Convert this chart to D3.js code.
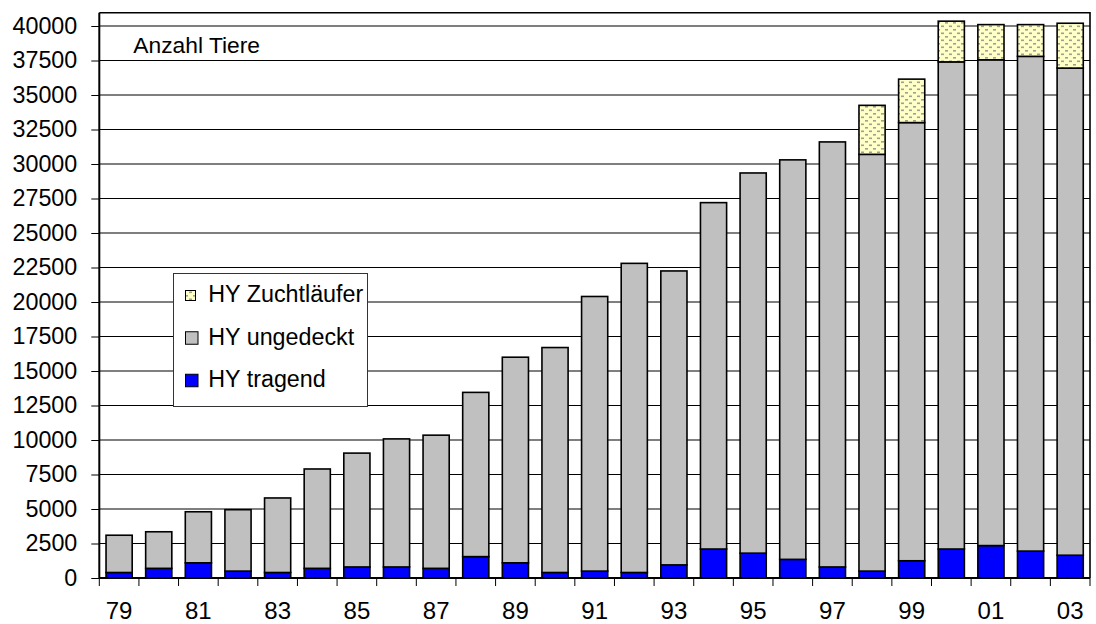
<!DOCTYPE html>
<html>
<head>
<meta charset="utf-8">
<script src="https://cdn.jsdelivr.net/npm/d3@7"></script>
<style>
  html, body { margin: 0; padding: 0; background: #fff; }
  svg { display: block; }
  text { font-family: "Liberation Sans", Arial, sans-serif; fill: #000; }
</style>
</head>
<body>
<svg id="chart" width="1096" height="624"></svg>
<script>
// ---- data ----
const years = ["79","80","81","82","83","84","85","86","87","88","89","90","91","92","93","94","95","96","97","98","99","00","01","02","03"];
const tragend = [400,700,1100,500,400,700,800,800,700,1550,1100,400,500,400,950,2100,1800,1350,800,500,1250,2100,2350,1950,1650];
const ungedeckt = [2700,2650,3700,4450,5400,7200,8250,9280,9650,11900,14900,16300,19900,22400,21300,25100,27550,28950,30800,30200,31750,35300,35200,35850,35300];
const zuchtlaeufer = [0,0,0,0,0,0,0,0,0,0,0,0,0,0,0,0,0,0,0,3550,3150,2950,2550,2300,3250];
const yTicks = [0,2500,5000,7500,10000,12500,15000,17500,20000,22500,25000,27500,30000,32500,35000,37500,40000];
const shownLabels = ["79","81","83","85","87","89","91","93","95","97","99","01","03"];
const seriesNames = ["HY tragend","HY ungedeckt","HY Zuchtläufer"];
const legendOrder = ["HY Zuchtläufer","HY ungedeckt","HY tragend"];
const titleText = "Anzahl Tiere";

// ---- layout ----
const L = 99.3, R = 1090, T = 12.7, B = 578;
const svg = d3.select("#chart");

const defs = svg.append("defs");
const pat = defs.append("pattern").attr("id","dots").attr("patternUnits","userSpaceOnUse")
  .attr("width",8).attr("height",7);
pat.append("rect").attr("width",8).attr("height",7).attr("fill","#FFFFC8");
pat.append("rect").attr("x",1).attr("y",1).attr("width",3).attr("height",1.6).attr("fill","#A0A090");
pat.append("rect").attr("x",5).attr("y",4.5).attr("width",3).attr("height",1.6).attr("fill","#A0A090");

const x = d3.scaleBand().domain(years).range([L, R]).paddingInner(0).paddingOuter(0);
const y = d3.scaleLinear().domain([0, 40000]).range([B, 26]);

const colors = {"HY tragend":"#0000FF","HY ungedeckt":"#C0C0C0","HY Zuchtläufer":"url(#dots)"};

// gridlines
svg.append("g").selectAll("line").data(yTicks.filter(d => d > 0)).join("line")
  .attr("x1", L).attr("x2", R).attr("y1", d => y(d)).attr("y2", d => y(d))
  .attr("stroke", "#000").attr("stroke-width", 1.1);

// frame (top and right)
svg.append("path").attr("d", `M${L},${T}H${R}V${B}`).attr("fill","none")
  .attr("stroke","#000").attr("stroke-width",1.6);

// stacked bars
const table = years.map((yr, i) => ({year: yr, "HY tragend": tragend[i], "HY ungedeckt": ungedeckt[i], "HY Zuchtläufer": zuchtlaeufer[i]}));
const stack = d3.stack().keys(seriesNames)(table);
const bw = x.bandwidth() * 0.66;
const gBars = svg.append("g");
stack.forEach(layer => {
  gBars.selectAll(null).data(layer.filter(d => d[1] - d[0] > 0)).join("rect")
    .attr("x", d => x(d.data.year) + (x.bandwidth() - bw) / 2)
    .attr("width", bw)
    .attr("y", d => y(d[1]))
    .attr("height", d => y(d[0]) - y(d[1]))
    .attr("fill", colors[layer.key])
    .attr("stroke", "#000").attr("stroke-width", 1.6);
});

// y axis
const yAxis = d3.axisLeft(y).tickValues(yTicks).tickFormat(d3.format("d")).tickSize(8).tickPadding(14);
const gy = svg.append("g").attr("transform", `translate(${L},0)`).call(yAxis);
gy.select(".domain").attr("d", `M0,${T}V${B}`).attr("stroke","#000").attr("stroke-width",2);
gy.selectAll(".tick line").attr("stroke","#000").attr("stroke-width",1);
gy.selectAll(".tick text").attr("font-size", 23.3).attr("font-family", "Liberation Sans, Arial, sans-serif").attr("fill","#000");

// x axis
const xAxis = d3.axisBottom(x).tickSize(0).tickPadding(0)
  .tickFormat(d => shownLabels.includes(d) ? d : "");
const gx = svg.append("g").attr("transform", `translate(0,${B})`).call(xAxis);
gx.select(".domain").attr("d", `M${L},0H${R}`).attr("stroke","#000").attr("stroke-width",2);
gx.selectAll(".tick text").attr("font-size", 24).attr("font-family", "Liberation Sans, Arial, sans-serif")
  .attr("fill","#000").attr("dy", null).attr("y", 40.5);
// category boundary ticks
const bounds = years.map(d => x(d)).concat([x(years[years.length-1]) + x.bandwidth()]);
gx.selectAll(".bt").data(bounds).join("line").attr("class","bt")
  .attr("x1", d => d).attr("x2", d => d).attr("y1", 0).attr("y2", 8)
  .attr("stroke","#000").attr("stroke-width",1);

// title label
svg.append("text").attr("x", 133.3).attr("y", 53.3).attr("font-size", 22.8).text(titleText);

// legend
const lg = svg.append("g");
lg.append("rect").attr("x", 173.5).attr("y", 273.5).attr("width", 194).attr("height", 133)
  .attr("fill", "#fff").attr("stroke", "#333").attr("stroke-width", 1);
const rowY = [302, 344.5, 387];
legendOrder.forEach((name, i) => {
  const s = name === "HY Zuchtläufer" ? 10 : 12.5;
  lg.append("rect").attr("x", 185.5).attr("y", rowY[i] - 6.5 - s / 2).attr("width", s).attr("height", s)
    .attr("fill", colors[name]).attr("stroke", "#000").attr("stroke-width", 1);
  lg.append("text").attr("x", 208.3).attr("y", rowY[i]).attr("font-size", 23.3).text(name);
});
</script>
</body>
</html>
